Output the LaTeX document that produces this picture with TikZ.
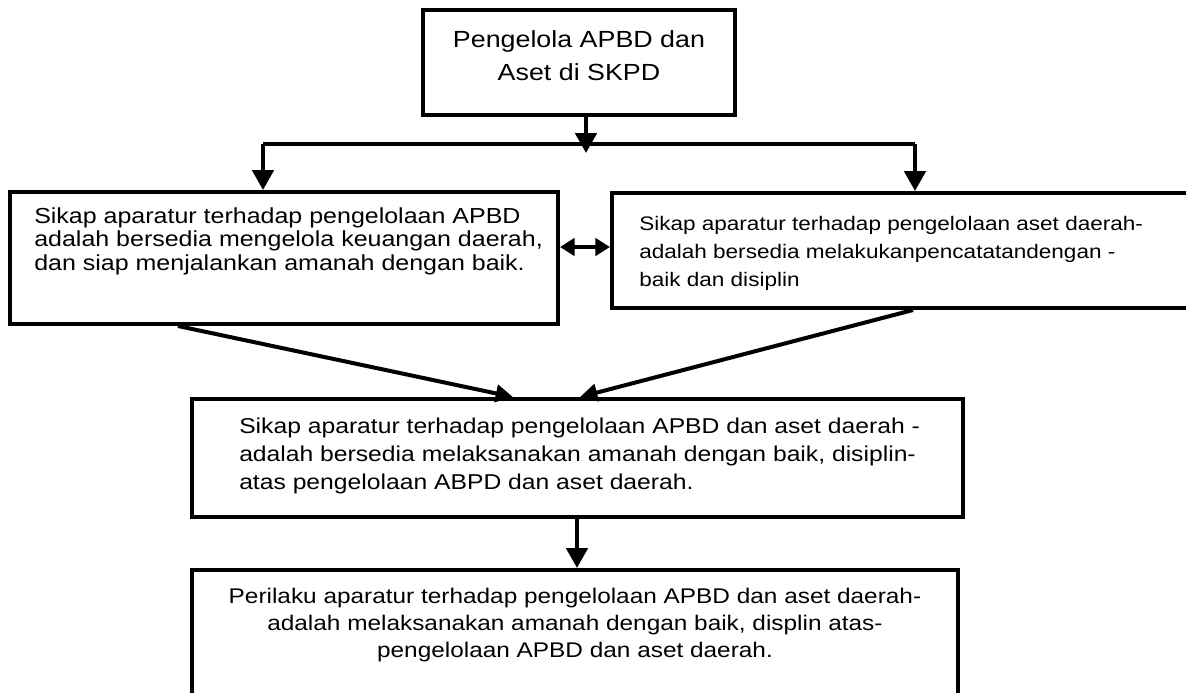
\documentclass[tikz,border=0pt]{standalone}
\usepackage{fontspec}
\newfontfamily\arial{Liberation Sans}[FakeStretch=1.15]
\usetikzlibrary{arrows.meta,calc}
\tikzset{
	kotak/.style={draw, line width=3pt, inner sep=0pt},
	teks/.style={inner sep=0pt, font=\arial\fontsize{16.1}{21}\selectfont},
	garis/.style={line width=3pt},
	panah/.style={line width=3pt, -{Triangle[length=15pt,width=16pt]}},
	panahmiring/.style={line width=3pt, -{Triangle[length=13pt,width=13pt]}},
	panahdua/.style={line width=3pt, {Triangle[length=11pt,width=13pt]}-{Triangle[length=11pt,width=13pt]}}
}

\begin{document}
\begin{tikzpicture}[x=0.75pt,y=-0.75pt]
			%%%%% START %%%%%
			\useasboundingbox (0,0) rectangle (1186,693);
			
			\node[kotak, minimum width=234pt, minimum height=78.75pt] (atas) at (579,62.5) {};
			\node[teks, align=center, font=\arial\fontsize{17.5}{24.75}\selectfont] (atasteks) at (579,56) {Pengelola APBD dan\\Aset di SKPD};
			
			\node[kotak, minimum width=411pt, minimum height=99pt] (kiri) at (284,258) {};
			\node[teks, anchor=west, align=left, font=\arial\fontsize{16.3}{17.6}\selectfont] (kiriteks) at (34,241) {Sikap aparatur terhadap pengelolaan APBD\\adalah bersedia mengelola keuangan daerah,\\dan siap menjalankan amanah dengan baik.};
			
			\node[kotak, minimum width=435pt, minimum height=86.25pt] (kanan) at (902,250.5) {};
			\node[teks, anchor=west, align=left, font=\arial\fontsize{14.7}{21}\selectfont] (kananteks) at (639,253) {Sikap aparatur terhadap pengelolaan aset daerah-\\adalah bersedia melakukanpencatatandengan -\\baik dan disiplin};
			
			\node[kotak, minimum width=578.25pt, minimum height=88.5pt] (tengah) at (577.5,458) {};
			\node[teks, anchor=west, align=left] (tengahteks) at (239,456) {Sikap aparatur terhadap pengelolaan APBD dan aset daerah -\\adalah bersedia melaksanakan amanah dengan baik, disiplin-\\atas pengelolaan ABPD dan aset daerah.};
			
			\node[kotak, minimum width=574.5pt, minimum height=112.5pt] (bawah) at (575,645) {};
			\node[teks, align=center, font=\arial\fontsize{15.9}{20.25}\selectfont] (bawahteks) at (575,625.5) {Perilaku aparatur terhadap pengelolaan APBD dan aset daerah-\\adalah melaksanakan amanah dengan baik, displin atas-\\pengelolaan APBD dan aset daerah.};
			
			% cabang atas
			\coordinate (cabang) at (586,144);
			\coordinate (cabangkiri) at (263,144);
			\coordinate (cabangkanan) at (915,144);
			\draw[panah] ($(atas.south)+(7,0)$) -- ($(cabang)+(0,9)$);
			\draw[garis] (cabangkiri) -- (cabangkanan);
			\draw[panah] (cabangkiri) -- (cabangkiri |- kiri.north);
			\draw[panah] (cabangkanan) -- (cabangkanan |- kanan.north);
			
			\coordinate (dua) at (585,247);
			\draw[panahdua] (kiri.east |- dua) -- (kanan.west |- dua);
			
			\draw[panahmiring] ($(kiri.south west)+(170,0)$) -- ($(tengah.north west)+(323,0)$);
			\draw[panahmiring] ($(kanan.south west)+(303,0)$) -- ($(tengah.north west)+(390,0)$);
			
			\draw[panah] ($(tengah.south west)+(387,0)$) -- ($(bawah.north west)+(387,0)$);
			%%%%% END %%%%%
\end{tikzpicture}
\end{document}
